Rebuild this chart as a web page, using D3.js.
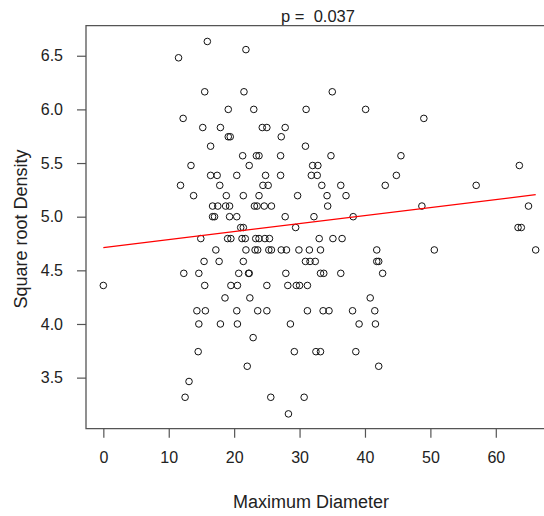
<!DOCTYPE html>
<html><head><meta charset="utf-8">
<script src="https://cdn.jsdelivr.net/npm/d3@7"></script>
<style>body{margin:0;background:#fff} svg{display:block;font-family:Arial,"Liberation Sans",sans-serif}</style>
</head><body><svg id="c" width="544" height="516"></svg>
<script>
// Maximum diameter (x) and square-root density (y) for each case
const diameter = [
  15.9, 21.8, 11.5,
  15.5, 21.5, 35.0,
  19.1, 23.0, 31.0, 40.1,
  12.2, 49.0,
  15.2, 17.9, 24.3, 25.0, 27.8,
  19.1, 19.4, 27.2,
  16.4, 30.9,
  21.3, 23.4, 23.8, 27.1, 34.8, 45.5,
  13.4, 22.3, 32.0, 32.8, 63.6,
  16.4, 17.4, 20.4, 24.8, 27.1, 31.8, 32.7, 44.8,
  11.8, 17.8, 24.4, 25.2, 33.4, 36.3, 43.1, 57.0,
  13.8, 18.8, 21.4, 23.8, 29.7, 34.2, 37.1,
  16.7, 17.5, 18.7, 19.3, 23.1, 23.5, 24.6, 25.7, 34.3, 48.7, 65.0,
  16.7, 17.0, 19.3, 20.4, 27.8, 32.2, 38.2,
  21.0, 21.4, 29.4, 63.4, 63.9,
  14.9, 19.0, 19.5, 21.2, 21.7, 23.3, 23.8, 24.7, 25.4, 33.0, 35.1, 36.5,
  17.2, 21.8, 23.2, 23.6, 25.3, 25.7, 27.2, 28.0, 29.9, 31.5, 33.2, 41.8, 50.6, 66.1,
  15.4, 17.7, 21.4, 30.9, 31.6, 32.4, 41.8, 42.1,
  12.3, 14.6, 20.7, 22.2, 22.3, 27.9, 33.2, 33.7, 36.3, 42.7,
  0.0, 15.5, 19.5, 20.5, 25.0, 28.2, 29.5, 30.0, 31.2,
  18.6, 22.4, 40.8,
  14.3, 15.6, 20.4, 23.6, 25.0, 31.2, 33.6, 34.5, 38.1, 41.5,
  14.6, 17.9, 20.5, 28.6, 39.1, 41.6,
  22.9,
  14.5, 29.2, 32.5, 33.2, 38.6,
  22.0, 42.1,
  13.1,
  12.5, 25.6, 30.7,
  28.3
];
const sqrtDensity = [
  6.633, 6.557, 6.481,
  6.164, 6.164, 6.164,
  6.0, 6.0, 6.0, 6.0,
  5.916, 5.916,
  5.831, 5.831, 5.831, 5.831, 5.831,
  5.745, 5.745, 5.745,
  5.657, 5.657,
  5.568, 5.568, 5.568, 5.568, 5.568, 5.568,
  5.477, 5.477, 5.477, 5.477, 5.477,
  5.385, 5.385, 5.385, 5.385, 5.385, 5.385, 5.385, 5.385,
  5.292, 5.292, 5.292, 5.292, 5.292, 5.292, 5.292, 5.292,
  5.196, 5.196, 5.196, 5.196, 5.196, 5.196, 5.196,
  5.099, 5.099, 5.099, 5.099, 5.099, 5.099, 5.099, 5.099, 5.099, 5.099, 5.099,
  5.0, 5.0, 5.0, 5.0, 5.0, 5.0, 5.0,
  4.899, 4.899, 4.899, 4.899, 4.899,
  4.796, 4.796, 4.796, 4.796, 4.796, 4.796, 4.796, 4.796, 4.796, 4.796, 4.796, 4.796,
  4.690, 4.690, 4.690, 4.690, 4.690, 4.690, 4.690, 4.690, 4.690, 4.690, 4.690, 4.690, 4.690, 4.690,
  4.583, 4.583, 4.583, 4.583, 4.583, 4.583, 4.583, 4.583,
  4.472, 4.472, 4.472, 4.472, 4.472, 4.472, 4.472, 4.472, 4.472, 4.472,
  4.359, 4.359, 4.359, 4.359, 4.359, 4.359, 4.359, 4.359, 4.359,
  4.243, 4.243, 4.243,
  4.123, 4.123, 4.123, 4.123, 4.123, 4.123, 4.123, 4.123, 4.123, 4.123,
  4.0, 4.0, 4.0, 4.0, 4.0, 4.0,
  3.873,
  3.742, 3.742, 3.742, 3.742, 3.742,
  3.606, 3.606,
  3.464,
  3.317, 3.317, 3.317,
  3.162
];
const xTicks = [0, 10, 20, 30, 40, 50, 60];
const yTicks = [3.5, 4.0, 4.5, 5.0, 5.5, 6.0, 6.5];
const fitIntercept = 4.711;
const fitSlope = 0.00748;
const titleText = "p =  0.037";
const xLabel = "Maximum Diameter";
const yLabel = "Square root Density";

const points = diameter.map((d, i) => ({x: d, y: sqrtDensity[i]}));

const svg = d3.select("#c");
const x = d3.scaleLinear().domain([-2.65, 67.37]).range([86, 544]);
const y = d3.scaleLinear().domain([3.024, 6.78]).range([428.7, 25.7]);
const axisCol = "#555";
const textCol = "#222";

// plot frame (right side falls outside the picture)
const x0 = x.range()[0], yTop = y.range()[1], yBot = y.range()[0];
svg.append("path")
  .attr("d", `M560,${yTop}H${x0}V${yBot}H560`)
  .attr("fill", "none").attr("stroke", axisCol).attr("stroke-width", 1.3);

// axes
const gx = svg.append("g").attr("transform", `translate(0,${yBot})`)
  .call(d3.axisBottom(x).tickValues(xTicks).tickSize(9).tickPadding(14).tickFormat(d3.format("d")));
const gy = svg.append("g").attr("transform", `translate(${x0},0)`)
  .call(d3.axisLeft(y).tickValues(yTicks).tickSize(9).tickPadding(14).tickFormat(d3.format(".1f")));
[gx, gy].forEach(g => {
  g.select(".domain").remove();
  g.selectAll(".tick line").attr("stroke", axisCol).attr("stroke-width", 1.2);
  g.selectAll(".tick text").attr("fill", textCol).style("font-size", "16px")
    .style("font-family", "Arial, 'Liberation Sans', sans-serif");
});

// points
svg.append("g").selectAll("circle").data(points).join("circle")
  .attr("cx", d => x(d.x)).attr("cy", d => y(d.y)).attr("r", 3.3)
  .attr("fill", "none").attr("stroke", "#111").attr("stroke-width", 1);

// regression line
const xr = d3.extent(diameter);
svg.append("line")
  .attr("x1", x(xr[0])).attr("y1", y(fitIntercept + fitSlope * xr[0]))
  .attr("x2", x(xr[1])).attr("y2", y(fitIntercept + fitSlope * xr[1]))
  .attr("stroke", "#ff0000").attr("stroke-width", 1.2);

// titles
svg.append("text").attr("x", 318).attr("y", 22).attr("text-anchor", "middle")
  .attr("fill", textCol).style("font-size", "16.5px").style("white-space", "pre").text(titleText);
svg.append("text").attr("x", 311).attr("y", 508).attr("text-anchor", "middle")
  .attr("fill", textCol).style("font-size", "18px").text(xLabel);
svg.append("text").attr("transform", "translate(27,229) rotate(-90)").attr("text-anchor", "middle")
  .attr("fill", textCol).style("font-size", "18px").text(yLabel);
</script></body></html>
